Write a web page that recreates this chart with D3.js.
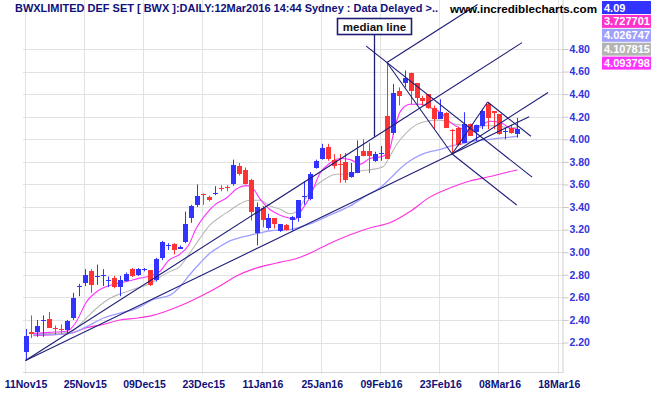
<!DOCTYPE html>
<html>
<head>
<meta charset="utf-8">
<script src="https://cdn.jsdelivr.net/npm/d3@7"></script>
<style>
body { margin: 0; background: #fff; }
text { font-family: "Liberation Sans", Arial, sans-serif; font-weight: bold; }
</style>
</head>
<body>
<script>
// drawing area
var width = 651,
  height = 395;

// axis ticks (x in trading-day index)
var xTickIdx = [0, 10, 20, 30, 40, 50, 60, 70, 80, 90];
var xTickLabels = ["11Nov15", "25Nov15", "09Dec15", "23Dec15", "11Jan16", "25Jan16", "09Feb16", "23Feb16", "08Mar16", "18Mar16"];
var yTicks = [2.2, 2.4, 2.6, 2.8, 3.0, 3.2, 3.4, 3.6, 3.8, 4.0, 4.2, 4.4, 4.6, 4.8];

// daily candles, one per trading day from 11Nov15
var open  = [2.12,2.29,2.30,2.39,2.41,2.33,2.32,2.31,2.41,2.695,2.73,2.83,2.785,2.79,2.745,2.77,2.69,2.75,2.85,2.80,2.84,2.84,2.75,2.95,3.055,3.07,3.03,3.09,3.30,3.42,3.515,3.49,3.515,3.565,3.58,3.60,3.76,3.73,3.64,3.17,3.39,3.21,3.30,3.19,3.24,3.28,3.30,3.49,3.47,3.75,3.82,3.93,3.82,3.785,3.80,3.67,3.70,3.90,3.895,3.81,3.87,4.21,4.06,4.43,4.50,4.59,4.50,4.365,4.40,4.28,4.18,4.23,4.085,4.10,3.97,4.14,4.07,4.12,4.31,4.25,4.22,4.065,4.10,4.05];
var high  = [2.32,2.44,2.40,2.44,2.47,2.35,2.36,2.40,2.64,2.72,2.85,2.85,2.89,2.85,2.785,2.79,2.79,2.82,2.86,2.86,2.86,2.84,2.95,3.10,3.08,3.08,3.06,3.36,3.42,3.60,3.52,3.50,3.585,3.594,3.594,3.82,3.79,3.75,3.65,3.44,3.41,3.34,3.30,3.25,3.25,3.32,3.46,3.63,3.71,3.82,3.96,3.96,3.87,3.87,3.88,3.79,3.99,4.00,3.97,3.89,3.94,4.68,4.49,4.46,4.61,4.59,4.50,4.385,4.40,4.30,4.355,4.24,4.09,4.11,4.24,4.14,4.13,4.27,4.33,4.25,4.22,4.10,4.13,4.19];
var low   = [2.04,2.24,2.25,2.25,2.33,2.27,2.28,2.28,2.40,2.61,2.70,2.64,2.71,2.70,2.69,2.68,2.61,2.74,2.78,2.79,2.83,2.70,2.74,2.93,3.02,2.98,3.03,3.08,3.26,3.40,3.42,3.45,3.505,3.54,3.54,3.59,3.68,3.60,3.28,3.06,3.22,3.20,3.21,3.18,3.19,3.19,3.27,3.42,3.46,3.74,3.82,3.81,3.74,3.615,3.615,3.66,3.70,3.85,3.70,3.80,3.81,3.83,4.04,4.30,4.46,4.31,4.30,4.30,4.27,4.09,4.18,4.10,3.87,3.94,3.97,4.03,3.985,4.09,4.09,4.09,4.04,4.00,4.05,4.015];
var close = [2.26,2.27,2.35,2.40,2.33,2.32,2.31,2.39,2.59,2.70,2.80,2.71,2.79,2.795,2.75,2.69,2.75,2.81,2.79,2.85,2.85,2.71,2.94,3.09,3.06,3.02,3.05,3.25,3.41,3.50,3.51,3.46,3.52,3.56,3.575,3.77,3.69,3.61,3.36,3.40,3.28,3.30,3.25,3.25,3.20,3.31,3.46,3.50,3.69,3.81,3.92,3.82,3.77,3.78,3.64,3.71,3.85,3.855,3.85,3.87,3.875,3.83,4.41,4.385,4.54,4.43,4.37,4.34,4.28,4.18,4.24,4.10,4.08,3.95,4.14,4.03,4.13,4.25,4.19,4.23,4.04,4.07,4.06,4.09];

// moving averages: [day index, value]
var maFast = [[1,2.28],[4,2.29],[7,2.30],[8.4,2.37],[10.3,2.56],[12.3,2.66],[14.5,2.71],[17,2.74],[19.3,2.77],[21,2.79],[22.7,2.83],[24.2,2.93],[26,2.98],[27.5,3.06],[28.8,3.21],[30.5,3.34],[32.2,3.43],[33.9,3.48],[35.6,3.56],[37.3,3.59],[38.3,3.57],[39.6,3.47],[41.2,3.38],[42.9,3.33],[44.6,3.30],[45.5,3.29],[46.3,3.35],[48,3.49],[49.7,3.70],[51.4,3.79],[53.1,3.83],[54.8,3.82],[56.5,3.78],[58.1,3.83],[60.3,3.85],[61.4,3.90],[62.3,4.10],[63.3,4.25],[64.9,4.31],[66.6,4.31],[68.3,4.28],[70,4.24],[71.7,4.15],[73.3,4.10],[75,4.08],[76.7,4.12],[78.4,4.16],[80.1,4.15],[81.8,4.10],[83,4.094]];
var maGray = [[1.3,2.28],[4.7,2.28],[7.5,2.29],[9.2,2.36],[10.9,2.45],[12.6,2.53],[14.2,2.59],[15.9,2.63],[17.6,2.66],[19.3,2.69],[21,2.72],[22.7,2.78],[24.4,2.83],[26,2.87],[27.7,2.99],[29.4,3.12],[31.1,3.24],[32.8,3.31],[34.5,3.37],[36.2,3.43],[37.9,3.46],[39.5,3.46],[41.3,3.41],[43,3.38],[44.6,3.34],[45.8,3.36],[46.9,3.45],[48.6,3.57],[50.3,3.64],[52.5,3.69],[54.8,3.69],[56.5,3.72],[58.1,3.73],[60.4,3.76],[61.5,3.85],[62.6,3.95],[64.3,4.06],[66,4.13],[67.7,4.16],[69.4,4.17],[71.1,4.16],[72.8,4.13],[74.4,4.12],[76.1,4.10],[77.8,4.12],[79.5,4.12],[81.8,4.10],[83,4.108]];
var maLav = [[1.3,2.27],[4.7,2.27],[7.5,2.28],[10.3,2.34],[13.1,2.415],[15.9,2.46],[18.7,2.50],[21.5,2.58],[24.4,2.62],[26,2.69],[27.7,2.80],[29.4,2.90],[31.1,2.99],[32.8,3.05],[34.5,3.10],[36.2,3.13],[37.9,3.15],[39.5,3.17],[41.3,3.19],[44.6,3.20],[48,3.25],[51.4,3.33],[54.8,3.41],[58.1,3.52],[59.8,3.57],[61.5,3.65],[63.2,3.74],[64.9,3.81],[66.6,3.86],[68.3,3.89],[70,3.91],[71.7,3.94],[73.3,3.955],[75,3.98],[76.7,3.99],[78.4,4.00],[80.1,4.01],[81.8,4.02],[83,4.027]];
var maSlow = [[1.3,2.26],[7.5,2.28],[10.3,2.33],[13.1,2.36],[15.9,2.40],[18.7,2.415],[21.5,2.44],[24.4,2.49],[27.2,2.55],[30,2.62],[32.8,2.70],[35.6,2.79],[38.4,2.85],[41.2,2.89],[42.9,2.91],[45.5,2.94],[48,2.99],[51.4,3.08],[54.8,3.155],[58.1,3.215],[61.5,3.26],[64.9,3.36],[68.3,3.49],[71.7,3.57],[75,3.63],[78.4,3.67],[80.6,3.70],[83,3.728]];

// last values panel
var lastValues = ["4.09", "3.727701", "4.026747", "4.107815", "4.093798"];
var lastColors = ["#3333ff", "#ff33cc", "#9f9fff", "#b4b4b4", "#ff33ff"];

// pitchfork pivots [day index, price]
var pivotA = [0, 2.04], pivotH = [61, 4.68], pivotB = [72, 3.87], pivotC = [78, 4.33];

var svg = d3.select("body").append("svg")
  .attr("width", width)
  .attr("height", height)
  .attr("xmlns", "http://www.w3.org/2000/svg");

var x = d3.scaleLinear().domain([0, 90]).range([25.5, 558.75]);
var y = d3.scaleLinear().domain([2.2, 4.8]).range([342.5, 49]);
var left = 23, right = 562.5, bottom = 372;

// grid
svg.append("g").selectAll("line")
  .data(xTickIdx).enter().append("line")
  .attr("x1", function(d) { return Math.round(x(d)) - 0.5; })
  .attr("x2", function(d) { return Math.round(x(d)) - 0.5; })
  .attr("y1", 0).attr("y2", bottom + 2)
  .attr("stroke", "#e2e2e2");
svg.append("g").selectAll("line")
  .data(yTicks).enter().append("line")
  .attr("x1", left).attr("x2", right)
  .attr("y1", function(d) { return Math.round(y(d)) + 0.5; })
  .attr("y2", function(d) { return Math.round(y(d)) + 0.5; })
  .attr("stroke", "#e2e2e2");
svg.append("line").attr("x1", left).attr("x2", right)
  .attr("y1", bottom + 0.5).attr("y2", bottom + 0.5).attr("stroke", "#d8d8d8");

// right axis
var yAxis = svg.append("g")
  .attr("transform", "translate(" + right + ",0)")
  .call(d3.axisRight(y).tickValues(yTicks).tickFormat(d3.format(".2f")).tickSize(6).tickPadding(1));
yAxis.select(".domain").attr("stroke", "#d0d0d0").attr("d", "M0.5,0V" + (bottom + 1));
yAxis.selectAll(".tick line").attr("stroke", "#c8c8c8");
yAxis.selectAll("text").attr("fill", "#3333dd").attr("font-size", 10.5)
  .attr("font-family", "'Liberation Sans', Arial, sans-serif").attr("font-weight", "bold");

// bottom axis
var xAxis = svg.append("g")
  .attr("transform", "translate(0," + bottom + ")")
  .call(d3.axisBottom(x).tickValues(xTickIdx).tickFormat(function(d, i) { return xTickLabels[i]; }).tickSize(0).tickPadding(8.5));
xAxis.select(".domain").remove();
xAxis.selectAll("text").attr("fill", "#10107a").attr("font-size", 10.5)
  .attr("font-family", "'Liberation Sans', Arial, sans-serif").attr("font-weight", "bold");

// moving averages
var line = d3.line()
  .x(function(d) { return x(d[0]); })
  .y(function(d) { return y(d[1]); })
  .curve(d3.curveMonotoneX);
svg.append("path").datum(maSlow).attr("d", line).attr("fill", "none").attr("stroke", "#ff33dd").attr("stroke-width", 1.1);
svg.append("path").datum(maLav).attr("d", line).attr("fill", "none").attr("stroke", "#9f9fff").attr("stroke-width", 1.3);
svg.append("path").datum(maGray).attr("d", line).attr("fill", "none").attr("stroke", "#b8b8b8").attr("stroke-width", 1.1);
svg.append("path").datum(maFast).attr("d", line).attr("fill", "none").attr("stroke", "#ff33ff").attr("stroke-width", 1.1);

// candles
var idx = d3.range(close.length);
var col = function(i) { return close[i] >= open[i] ? "#3333ff" : "#ff3333"; };
svg.append("g").selectAll("line")
  .data(idx).enter().append("line")
  .attr("x1", function(i) { return Math.round(x(i)) + 0.5; })
  .attr("x2", function(i) { return Math.round(x(i)) + 0.5; })
  .attr("y1", function(i) { return y(high[i]); })
  .attr("y2", function(i) { return y(low[i]); })
  .attr("stroke", col);
svg.append("g").selectAll("rect")
  .data(idx).enter().append("rect")
  .attr("x", function(i) { return Math.round(x(i)) - 2; })
  .attr("width", 5)
  .attr("y", function(i) { return Math.round(y(Math.max(open[i], close[i]))); })
  .attr("height", function(i) { return Math.max(1, Math.round(Math.abs(y(open[i]) - y(close[i])))); })
  .attr("fill", col);

// pitchforks
var mid1 = [(pivotH[0] + pivotB[0]) / 2, (pivotH[1] + pivotB[1]) / 2];
var k1 = (mid1[1] - pivotA[1]) / (mid1[0] - pivotA[0]);
var kAB = (pivotB[1] - pivotA[1]) / (pivotB[0] - pivotA[0]);
var mid2 = [(pivotB[0] + pivotC[0]) / 2, (pivotB[1] + pivotC[1]) / 2];
var k2 = (mid2[1] - pivotH[1]) / (mid2[0] - pivotH[0]);
function ray(p, k, i1, i2) { return [[i1, p[1] + k * (i1 - p[0])], [i2, p[1] + k * (i2 - p[0])]]; }
var segs = [
  ray(pivotA, k1, 0, 83.8),
  ray(pivotH, k1, 61, 76.3),
  ray(pivotB, k1, 72, 88.2),
  ray(pivotA, kAB, 0, 85),
  [pivotH, pivotB],
  ray(pivotH, k2, 57.5, 85.5),
  ray(pivotC, k2, 78, 85.3),
  ray(pivotB, k2, 72, 82.9),
  [pivotB, pivotC]
];
svg.append("g").selectAll("line")
  .data(segs).enter().append("line")
  .attr("x1", function(d) { return x(d[0][0]); })
  .attr("y1", function(d) { return y(d[0][1]); })
  .attr("x2", function(d) { return x(d[1][0]); })
  .attr("y2", function(d) { return y(d[1][1]); })
  .attr("stroke", "#1e1e78")
  .attr("stroke-width", 1.1);

// median line callout
var calloutIdx = 59;
var cx = Math.round(x(calloutIdx)) - 0.5;
svg.append("line")
  .attr("x1", cx).attr("x2", cx)
  .attr("y1", 35).attr("y2", y(pivotA[1] + k1 * (calloutIdx - pivotA[0])))
  .attr("stroke", "#1e1e78").attr("stroke-width", 1.3);
svg.append("rect")
  .attr("x", cx - 37).attr("y", 18.5).attr("width", 74).attr("height", 16)
  .attr("fill", "#fff").attr("stroke", "#1e1e78").attr("stroke-width", 1.6);
svg.append("text")
  .attr("x", cx).attr("y", 30.5).attr("text-anchor", "middle")
  .attr("font-size", 11.5).attr("fill", "#111")
  .text("median line");

// header
svg.append("text")
  .attr("x", 15).attr("y", 12)
  .attr("font-size", 11.5).attr("fill", "#10107a")
  .attr("textLength", 423).attr("lengthAdjust", "spacingAndGlyphs")
  .text("BWXLIMITED DEF SET [ BWX ]:DAILY:12Mar2016 14:44 Sydney : Data Delayed >..");
svg.append("text")
  .attr("x", 450).attr("y", 12.5)
  .attr("font-size", 11.5).attr("fill", "#000")
  .attr("textLength", 147).attr("lengthAdjust", "spacingAndGlyphs")
  .text("www.incrediblecharts.com");

// last values
var vb = svg.append("g").selectAll("g")
  .data(lastValues).enter().append("g")
  .attr("transform", function(d, i) { return "translate(602," + (1 + i * 13.9) + ")"; });
vb.append("rect").attr("width", 49).attr("height", 13)
  .attr("fill", function(d, i) { return lastColors[i]; });
vb.append("text").attr("x", 2).attr("y", 10.5)
  .attr("font-size", 11).attr("fill", "#fff")
  .text(function(d) { return d; });
</script>
</body>
</html>
